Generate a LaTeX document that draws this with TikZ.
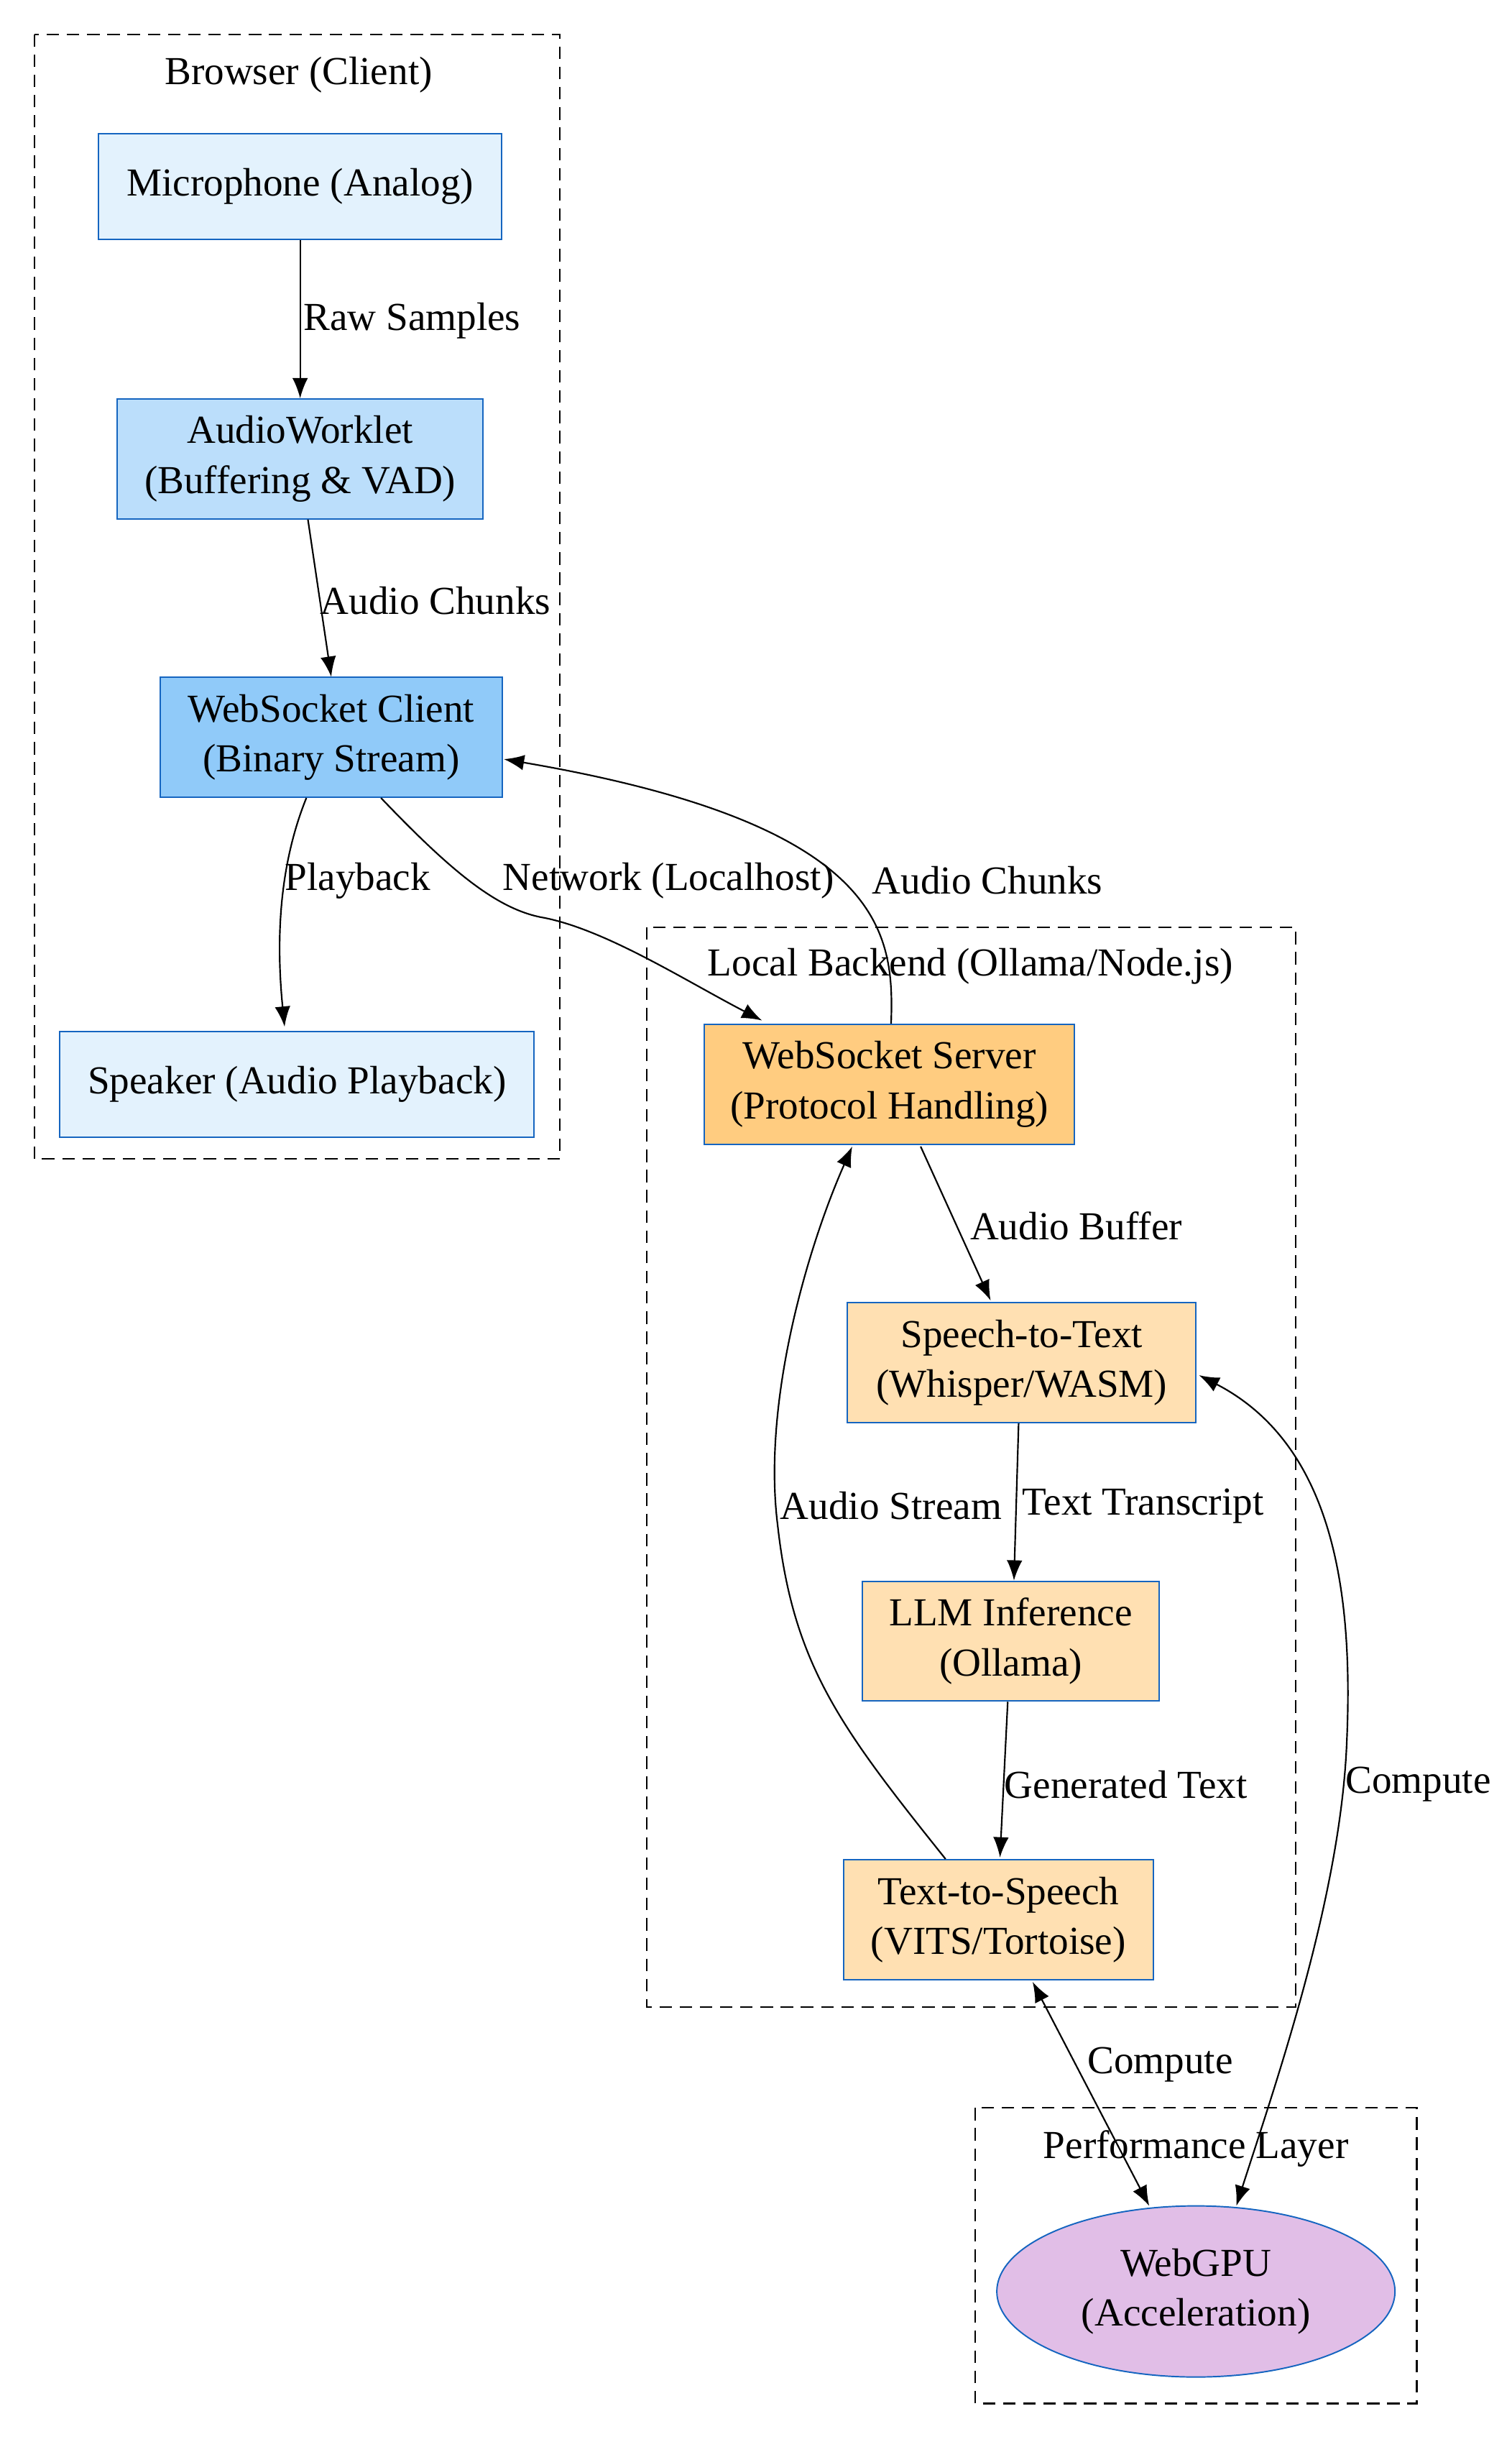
\documentclass[tikz,border=0pt]{standalone}
\usepackage{fontspec}
\setmainfont{Liberation Serif}
\usetikzlibrary{arrows.meta,shapes.geometric}
\begin{document}
\begin{tikzpicture}[x=1pt,y=-1pt,
  every node/.style={font=\fontsize{25.5pt}{32pt}\selectfont},
  box/.style={line width=0.9pt,align=center,minimum height=77pt,inner sep=0pt},
  clus/.style={draw,dash pattern=on 8pt off 5pt,line width=1pt},
  e/.style={-{Latex[length=13pt,width=10pt]},line width=1pt},
  be/.style={{Latex[length=13pt,width=10pt]}-{Latex[length=13pt,width=10pt]},line width=1pt},
  lab/.style={inner sep=1pt}]
\useasboundingbox (0,0) rectangle (972,1573);
\definecolor{c1}{HTML}{E3F2FD}\definecolor{c2}{HTML}{BBDEFB}\definecolor{c3}{HTML}{90CAF9}
\definecolor{o1}{HTML}{FFCC80}\definecolor{o2}{HTML}{FFE0B2}\definecolor{p1}{HTML}{E1BEE7}
\definecolor{bd}{HTML}{1565C0}
\tikzset{box/.append style={draw=bd}}
\draw[clus] (22,22) rectangle (360,745);
\node (lb) at (192,48) {Browser (Client)};
\draw[clus] (416,596) rectangle (833,1290);
\node (ll) at (624,621) {Local Backend (Ollama/Node.js)};
\draw[clus] (627,1355) rectangle (911,1545);
\node (lp) at (769,1381) {Performance Layer};
\node[box,fill=c1,minimum width=259pt,minimum height=68pt] (mic) at (193,120) {Microphone (Analog)};
\node[box,fill=c2,minimum width=235pt] (aw) at (193,295) {AudioWorklet\\(Buffering \& VAD)};
\node[box,fill=c3,minimum width=220pt] (wsc) at (213,474) {WebSocket Client\\(Binary Stream)};
\node[box,fill=c1,minimum width=305pt,minimum height=68pt] (spk) at (191,697) {Speaker (Audio Playback)};
\node[box,fill=o1,minimum width=238pt] (wss) at (572,697) {WebSocket Server\\(Protocol Handling)};
\node[box,fill=o2,minimum width=224pt] (stt) at (657,876) {Speech-to-Text\\(Whisper/WASM)};
\node[box,fill=o2,minimum width=191pt] (llm) at (650,1055) {LLM Inference\\(Ollama)};
\node[box,fill=o2,minimum width=199pt] (tts) at (642,1234) {Text-to-Speech\\(VITS/Tortoise)};
\node[ellipse,draw=bd,line width=0.9pt,fill=p1,minimum width=256pt,minimum height=110pt,inner sep=0pt,align=center] (gpu) at (769,1473) {WebGPU\\(Acceleration)};
\draw[e] (mic) -- (aw);
\node[lab] at (265,206) {Raw Samples};
\draw[e] (aw.south) ++(5,0) coordinate (a1) (a1) -- (wsc.north);
\node[lab] at (280,386) {Audio Chunks};
\draw[e] (wsc.south) ++(-16,0) coordinate (w1) (w1) .. controls (178,560) and (178,610) .. (183,660);
\node[lab] at (230,566) {Playback};
\draw[e] (wsc.south) ++(32,0) coordinate (w2) (w2) .. controls (290,560) and (320,585) .. (350,590) .. controls (390,598) and (440,630) .. (490,656);
\node[lab] at (430,566) {Network (Localhost)};
\draw[e] (573,658) .. controls (575,600) and (570,530) .. (324,488);
\node[lab] at (635,566) {Audio Chunks};
\draw[e] (592,737) -- (637,836);
\node[lab] at (692,788) {Audio Buffer};
\draw[e] (655,915) -- (652,1016);
\node[lab] at (735,968) {Text Transcript};
\draw[e] (648,1094) -- (643,1194);
\node[lab] at (724,1147) {Generated Text};
\draw[e] (608,1195) .. controls (540,1110) and (510,1070) .. (500,980) .. controls (490,900) and (520,800) .. (548,737);
\node[lab] at (573,968) {Audio Stream};
\draw[be] (664,1274) -- (739,1418);
\node[lab] at (746,1327) {Compute};
\draw[be] (771,884) .. controls (860,930) and (870,1030) .. (866,1120) .. controls (862,1220) and (820,1340) .. (795,1418);
\node[lab] at (912,1147) {Compute};
\end{tikzpicture}
\end{document}
